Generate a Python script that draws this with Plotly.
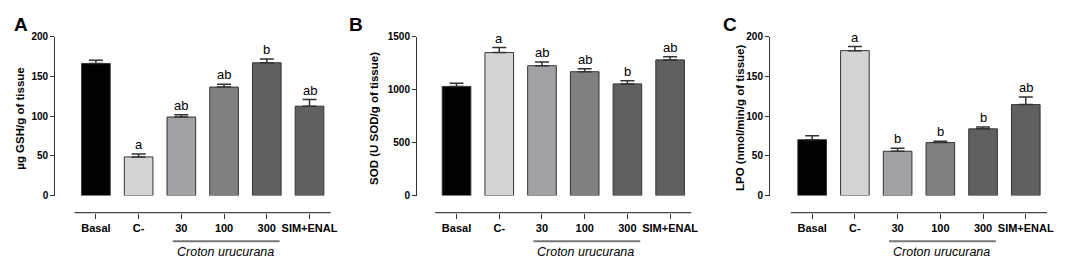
import plotly.graph_objects as go

W, H = 1065, 258

categories = ["Basal", "C-", "30", "100", "300", "SIM+ENAL"]
bar_colors = ["#000000", "#d4d4d4", "#a1a1a6", "#808080", "#606060", "#606060"]

gsh_mean = [166.6, 48.7, 99.0, 136.8, 167.4, 112.7]
gsh_sem = [4.0, 3.6, 2.8, 3.6, 4.8, 8.4]
gsh_letters = ["", "a", "ab", "ab", "b", "ab"]

sod_mean = [1032, 1352, 1228, 1171, 1056, 1283]
sod_sem = [30, 48, 34, 27, 30, 30]
sod_letters = ["", "a", "ab", "ab", "b", "ab"]

lpo_mean = [70.4, 182.7, 55.9, 66.8, 84.1, 114.7]
lpo_sem = [4.9, 5.2, 3.7, 1.6, 2.4, 9.6]
lpo_letters = ["", "a", "b", "b", "b", "ab"]

panels = [
    dict(letter="A", mean=gsh_mean, sem=gsh_sem, marks=gsh_letters,
         ymax=200, dtick=50, title="µg GSH/g of tissue",
         xpx=(47.5, 325), xmin=-0.953, title_x=12.5, letter_x=13.5),
    dict(letter="B", mean=sod_mean, sem=sod_sem, marks=sod_letters,
         ymax=1500, dtick=500, title="SOD (U SOD/g of tissue)",
         xpx=(411.7, 688), xmin=-0.926, title_x=369, letter_x=350.5),
    dict(letter="C", mean=lpo_mean, sem=lpo_sem, marks=lpo_letters,
         ymax=200, dtick=50, title="LPO (nmol/min/g of tissue)",
         xpx=(767, 1046), xmin=-0.988, title_x=737.5, letter_x=726.5),
]

FONT = "Arial, Liberation Sans, Helvetica, sans-serif"
AX = "#333333"

def py(px):
    return (H - px) / H

y_dom = [py(190.7), py(25)]
xline_y = py(208.5)
croton_line_y = py(238.5)
croton_text_y = py(250)

fig = go.Figure()
layout = dict(
    width=W, height=H, margin=dict(l=0, r=0, t=0, b=0),
    paper_bgcolor="white", plot_bgcolor="white", showlegend=False,
    font=dict(family=FONT, color="#000000"),
)
shapes = []
annotations = []

for i, p in enumerate(panels):
    n = "" if i == 0 else str(i + 1)
    xa, ya = "x" + n, "y" + n
    err_top = [m + s for m, s in zip(p["mean"], p["sem"])]
    fig.add_trace(go.Bar(
        x=list(range(len(categories))), y=p["mean"], xaxis=xa, yaxis=ya,
        width=0.67,
        marker=dict(color=bar_colors, line=dict(color=AX, width=1)),
        error_y=dict(type="data", array=p["sem"], arrayminus=[0] * len(categories),
                     symmetric=False, color=AX, thickness=1.5, width=7),
        hoverinfo="skip",
    ))
    layout["xaxis" + n] = dict(
        domain=[p["xpx"][0] / W, p["xpx"][1] / W], range=[p["xmin"], 5.5],
        anchor="free", position=xline_y, showline=False, showgrid=False, zeroline=False,
        tickmode="array", tickvals=list(range(len(categories))), ticktext=categories,
        ticks="outside", ticklen=5, tickwidth=1, tickcolor=AX,
        tickfont=dict(family=FONT, size=11, color="#000000", weight="bold"),
        fixedrange=True,
    )
    layout["yaxis" + n] = dict(
        domain=y_dom, range=[0, p["ymax"]], anchor=xa,
        showline=True, linecolor=AX, linewidth=1, showgrid=False, zeroline=False,
        tickmode="linear", tick0=0, dtick=p["dtick"],
        ticks="outside", ticklen=4, tickwidth=1, tickcolor=AX,
        tickfont=dict(family=FONT, size=10, color="#000000", weight="bold"),
        fixedrange=True,
    )
    # offset category axis line
    shapes.append(dict(type="line", xref=xa, yref="paper", x0=-0.5, x1=5.5,
                       y0=xline_y, y1=xline_y, line=dict(color="#444444", width=1.2)))
    # Croton urucurana bracket line
    shapes.append(dict(type="line", xref=xa, yref="paper", x0=1.8, x1=4.3,
                       y0=croton_line_y, y1=croton_line_y, line=dict(color="#777777", width=2)))
    annotations.append(dict(xref=xa, yref="paper", x=3.03, y=croton_text_y,
                            text="<i>Croton urucurana</i>", showarrow=False,
                            font=dict(family=FONT, size=12.5, color="#000000"),
                            xanchor="center", yanchor="middle"))
    # significance letters
    for k, (t, top) in enumerate(zip(p["marks"], err_top)):
        if t:
            annotations.append(dict(xref=xa, yref=ya, x=k, y=top, text=t, showarrow=False,
                                    font=dict(family=FONT, size=13, color="#000000"),
                                    xanchor="center", yanchor="bottom", yshift=0))
    # y-axis title
    annotations.append(dict(xref="paper", yref="paper", x=p["title_x"] / W, y=py(110),
                            text="<b>" + p["title"] + "</b>", textangle=-90, showarrow=False,
                            font=dict(family=FONT, size=11.5, color="#000000"),
                            xanchor="center", yanchor="middle"))
    # panel letter
    annotations.append(dict(xref="paper", yref="paper", x=p["letter_x"] / W, y=py(11.5),
                            text="<b>" + p["letter"] + "</b>", showarrow=False,
                            font=dict(family=FONT, size=19, color="#000000"),
                            xanchor="center", yanchor="middle"))

layout["shapes"] = shapes
layout["annotations"] = annotations
fig.update_layout(**layout)
fig.write_html("out.html")
